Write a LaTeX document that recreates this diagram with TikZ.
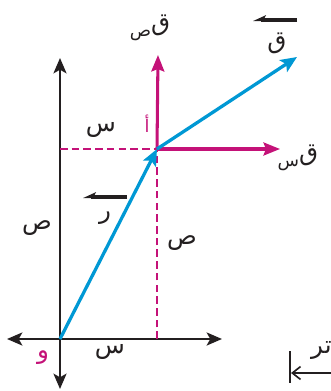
\documentclass[tikz,border=0pt]{standalone}
\usepackage{fontspec}
\newfontfamily\arabicfont[Script=Arabic]{DejaVu Sans}
\TeXXeTstate=1
\usetikzlibrary{arrows.meta}
\definecolor{vecblue}{RGB}{0,152,212}
\definecolor{compmag}{RGB}{196,18,120}
\definecolor{axisgray}{RGB}{35,31,32}
\newcommand{\arlabel}[1]{{\arabicfont\beginR #1\endR}}
\newcommand{\comlabel}[1]{{\arabicfont\raisebox{-0.4ex}{\fontsize{15}{17}\selectfont #1}ق}}

\begin{document}
\begin{tikzpicture}[x=0.03cm,y=-0.03cm,font=\fontsize{21}{24}\selectfont,
  axis/.style={line width=2.4pt,draw=axisgray,{Stealth[length=13pt,width=11pt,inset=3pt]}-{Stealth[length=13pt,width=11pt,inset=3pt]}},
  vec/.style={line width=2.8pt,draw=vecblue,-{Stealth[length=14pt,width=12pt,inset=3pt]}},
  comp/.style={line width=2.6pt,draw=compmag,-{Stealth[length=14pt,width=11pt,inset=2pt]}},
  proj/.style={line width=2.4pt,draw=compmag,dash pattern=on 6.5pt off 3.5pt},
  harp/.style={line width=2.6pt,draw=axisgray,-{Stealth[harpoon,swap,length=9pt,width=8pt,inset=2pt]}},
  lab/.style={inner sep=0pt,text=axisgray}]
\useasboundingbox (0,0) rectangle (330,391);
% points of the diagram
\coordinate (O) at (60,339);
\coordinate (A) at (157,149);
\coordinate (B) at (297,57);
\coordinate (xl) at (7,339);
\coordinate (xr) at (222,339);
\coordinate (yt) at (60,58);
\coordinate (yb) at (60,389);
\coordinate (Ay) at (60,149);
\coordinate (Ax) at (157,339);
\coordinate (Fy) at (158,55);
\coordinate (Fx) at (280,149);
% axes and projections
\draw[axis] (xl) -- (xr);
\draw[axis] (yb) -- (yt);
\draw[proj] (Ay) -- (A);
\draw[proj] (Ax) -- (A);
% components and vectors
\draw[comp] (A) -- (Fy);
\draw[comp] (A) -- (Fx);
\draw[vec] (O) -- (A);
\draw[vec] (A) -- (B);
% labels
\node[lab] (Fylab) at (150,28) {\comlabel{ص}};
\node[lab] (Flab) at (277,43) {\arlabel{ق}};
\draw[harp] (297,20) -- (253,20);
\node[lab] (Fxlab) at (298,158) {\comlabel{س}};
\node[lab] (xtop) at (101,130) {\arlabel{س}};
\node[lab] (rlab) at (105,218) {\arlabel{ر}};
\draw[harp] (127,197) -- (83,197);
\node[lab] (yleft) at (37,228) {\arlabel{ص}};
\node[lab] (yright) at (182,243) {\arlabel{ص}};
\node[lab] (xbot) at (110,352) {\arlabel{س}};
\node[lab,text=compmag] (Olab) at (43,358) {\arlabel{و}};
\node[lab,text=compmag,font=\fontsize{15}{17}\selectfont] (Alab) at (147,124) {\arlabel{أ}};
% scale mark, cut at the edge
\coordinate (m1) at (290,351);
\coordinate (m2) at (290,383);
\coordinate (m3) at (336,373);
\coordinate (m4) at (291,373);
\draw[line width=1.4pt,axisgray] (m1) -- (m2);
\draw[line width=1.4pt,axisgray,-{Straight Barb[length=7pt,width=11pt]}] (m3) -- (m4);
\node[lab,anchor=west] (unit) at (311,350) {\arlabel{تر}};
\end{tikzpicture}
\end{document}
